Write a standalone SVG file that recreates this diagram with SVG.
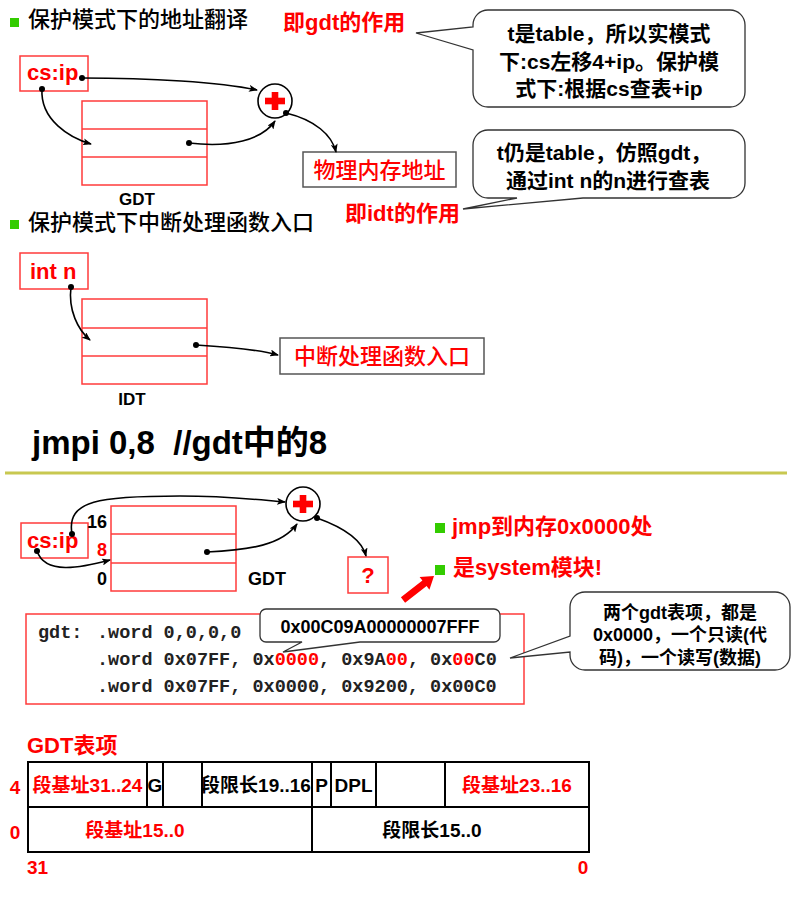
<svg xmlns="http://www.w3.org/2000/svg" width="809" height="904" viewBox="0 0 809 904">
<style>
text{font-family:"Liberation Sans","Noto Sans CJK SC",sans-serif;}
.t{font-size:22px;fill:#000;font-weight:500;}
.r{fill:#ff0000;font-weight:bold;font-size:22px;}
.rn{fill:#ff0000;font-size:22px;font-weight:500;}
.b{font-weight:bold;fill:#000;}
.mono{font-family:"Liberation Mono","Noto Sans CJK SC",monospace;font-size:18.5px;font-weight:bold;fill:#222;}
.red{fill:#ff0000;}
.tbl{fill:none;stroke:#ff3b3b;stroke-width:1.5;}
.gbox{fill:#fff;stroke:#555;stroke-width:1.5;}
.rbox{fill:#fff;stroke:#ff3b3b;stroke-width:1.5;}
.call{fill:#fff;stroke:#333;stroke-width:1.3;}
.conn path{fill:none;stroke:#000;stroke-width:1.6;marker-start:url(#dot);marker-end:url(#arr);}
.bul{fill:#33cc00;}
.grid{fill:#fff;stroke:#000;stroke-width:2;}
.gl{stroke:#000;stroke-width:2;}
.c{text-anchor:middle;}
</style>
<defs>
<marker id="arr" markerUnits="userSpaceOnUse" markerWidth="9" markerHeight="7" refX="8" refY="3.5" orient="auto">
<path d="M0,0 L9,3.5 L0,7 L2,3.5 z" fill="#000"/>
</marker>
<marker id="dot" markerUnits="userSpaceOnUse" markerWidth="7" markerHeight="7" refX="3.5" refY="3.5">
<circle cx="3.5" cy="3.5" r="3" fill="#000"/>
</marker>
<g id="plus">
<circle r="17" fill="#fff" stroke="#000" stroke-width="1.6"/>
<rect x="-10" y="-3.3" width="20" height="6.6" fill="#ff0000"/>
<rect x="-3.3" y="-9" width="6.6" height="18" fill="#ff0000"/>
</g>
</defs>
<rect width="809" height="904" fill="#fff"/>

<!-- Section 1 -->
<g id="title1">
<rect class="bul" x="10" y="18" width="9" height="9"/>
<text class="t" x="28" y="27">保护模式下的地址翻译</text>
</g>
<text id="gdt-role" class="r" x="283" y="30">即gdt的作用</text>
<g id="csip1">
<rect class="rbox" x="20" y="56" width="68" height="35"/>
<text class="r" x="27" y="80">cs:ip</text>
</g>
<g id="gdt1">
<rect class="tbl" x="82" y="101" width="125" height="84"/>
<line class="tbl" x1="82" y1="129" x2="207" y2="129"/>
<line class="tbl" x1="82" y1="157" x2="207" y2="157"/>
<text class="b c" x="137" y="205" font-size="17">GDT</text>
</g>
<g id="plus1"><use href="#plus" x="275" y="101"/></g>
<g id="phys">
<rect class="gbox" x="303" y="152" width="153" height="35"/>
<text class="rn c" x="379.5" y="178">物理内存地址</text>
</g>
<g id="callout1">
<path class="call" d="M488,10 H730 A15,15 0 0 1 745,25 V92 A15,15 0 0 1 730,107 H488 A15,15 0 0 1 473,92 V50 L416,33 L473,27 V25 A15,15 0 0 1 488,10 Z"/>
<text class="b c" x="609" y="41" font-size="21">t是table，所以实模式</text>
<text class="b c" x="609" y="69" font-size="21">下:cs左移4+ip。保护模</text>
<text class="b c" x="609" y="96" font-size="21">式下:根据cs查表+ip</text>
</g>
<g id="callout2">
<path class="call" d="M488,130 H730 A15,15 0 0 1 745,145 V183 A15,15 0 0 1 730,198 H583 L463,209 L517,198 H488 A15,15 0 0 1 473,183 V145 A15,15 0 0 1 488,130 Z"/>
<text class="b c" x="604" y="160" font-size="21">t仍是table，仿照gdt，</text>
<text class="b c" x="608" y="188" font-size="21">通过int n的n进行查表</text>
</g>
<text id="idt-role" class="r" x="345" y="221">即idt的作用</text>

<!-- Section 2 -->
<g id="title2">
<rect class="bul" x="10" y="220" width="9" height="9"/>
<text class="t" x="28" y="230">保护模式下中断处理函数入口</text>
</g>
<g id="intn">
<rect class="rbox" x="20" y="253" width="68" height="36"/>
<text class="r" x="30" y="279">int n</text>
</g>
<g id="idt">
<rect class="tbl" x="82" y="299" width="125" height="85"/>
<line class="tbl" x1="82" y1="328" x2="207" y2="328"/>
<line class="tbl" x1="82" y1="356" x2="207" y2="356"/>
<text class="b c" x="132" y="405" font-size="17">IDT</text>
</g>
<g id="handler">
<rect class="gbox" x="280" y="338" width="204" height="36"/>
<text class="rn c" x="382" y="364">中断处理函数入口</text>
</g>

<text id="jmpi" class="b" x="32" y="454" font-size="33" xml:space="preserve">jmpi 0,8  //gdt中的8</text>
<line id="sep" x1="5" y1="473" x2="787" y2="473" stroke="#c8c850" stroke-width="3"/>

<!-- Section 3 -->
<g id="csip3">
<rect class="rbox" x="21" y="523" width="67" height="35"/>
<text class="r" x="27" y="548">cs:ip</text>
</g>
<g id="gdt3">
<rect class="tbl" x="111" y="506" width="125" height="85"/>
<line class="tbl" x1="111" y1="534" x2="236" y2="534"/>
<line class="tbl" x1="111" y1="563" x2="236" y2="563"/>
<text class="b" x="87" y="528" font-size="18">16</text>
<text class="b red" x="97" y="556" font-size="18">8</text>
<text class="b" x="97" y="585" font-size="18">0</text>
<text class="b" x="248" y="585" font-size="18">GDT</text>
</g>
<g id="plus3"><use href="#plus" x="303" y="504"/></g>
<g id="qbox">
<rect class="rbox" x="348" y="557" width="40" height="36"/>
<text class="r c" x="368" y="583" font-size="20">?</text>
</g>
<g id="notes">
<rect class="bul" x="435" y="523" width="10" height="10"/>
<text class="r" x="452" y="534">jmp到内存0x0000处</text>
<rect class="bul" x="435" y="565" width="10" height="10"/>
<text class="r" x="453" y="575">是system模块!</text>
</g>
<polygon id="bigarrow" points="405.1,602.8 426.6,586.1 429.4,589.7 434,576 419.6,576.9 422.4,580.5 400.9,597.2" fill="#ff0000"/>

<g id="code">
<rect class="rbox" x="26" y="614" width="498" height="90"/>
<text class="mono" x="38" y="638">gdt:</text>
<text class="mono" x="97" y="638">.word 0,0,0,0</text>
<text class="mono" x="97" y="665">.word 0x07FF, 0x<tspan class="red">0000</tspan>, 0x9A<tspan class="red">00</tspan>, 0x<tspan class="red">00</tspan>C0</text>
<text class="mono" x="97" y="692">.word 0x07FF, 0x0000, 0x9200, 0x00C0</text>
</g>
<g id="callout-hex">
<path class="call" d="M266,609 H494 A6,6 0 0 1 500,615 V636 A6,6 0 0 1 494,642 H360 L283,652 L302,642 H266 A6,6 0 0 1 260,636 V615 A6,6 0 0 1 266,609 Z"/>
<text class="b c" x="380" y="633" font-size="18">0x00C09A00000007FFF</text>
</g>
<g id="callout3">
<path class="call" d="M585,592 H775 A15,15 0 0 1 790,607 V655 A15,15 0 0 1 775,670 H585 A15,15 0 0 1 570,655 V652 L510,658 L570,636 V607 A15,15 0 0 1 585,592 Z"/>
<text class="b c" x="680" y="619" font-size="18">两个gdt表项，都是</text>
<text class="b c" x="680" y="641" font-size="18">0x0000，一个只读(代</text>
<text class="b c" x="680" y="664" font-size="18">码)，一个读写(数据)</text>
</g>

<!-- GDT entry -->
<g id="gdt-entry">
<text class="r" x="27" y="753" font-size="21">GDT表项</text>
<rect class="grid" x="28" y="762" width="561" height="90"/>
<line class="gl" x1="28" y1="807" x2="589" y2="807"/>
<line class="gl" x1="147" y1="762" x2="147" y2="807"/>
<line class="gl" x1="163" y1="762" x2="163" y2="807"/>
<line class="gl" x1="202" y1="762" x2="202" y2="807"/>
<line class="gl" x1="312" y1="762" x2="312" y2="852"/>
<line class="gl" x1="331" y1="762" x2="331" y2="807"/>
<line class="gl" x1="376" y1="762" x2="376" y2="807"/>
<line class="gl" x1="445" y1="762" x2="445" y2="807"/>
<text class="b red c" x="87.5" y="792" font-size="19">段基址31..24</text>
<text class="b c" x="155" y="792" font-size="19">G</text>
<text class="b c" x="256" y="792" font-size="19">段限长19..16</text>
<text class="b c" x="321.5" y="792" font-size="19">P</text>
<text class="b c" x="353.5" y="792" font-size="19">DPL</text>
<text class="b red c" x="517" y="792" font-size="19">段基址23..16</text>
<text class="b red c" x="135" y="837" font-size="19">段基址15..0</text>
<text class="b c" x="432" y="837" font-size="19">段限长15..0</text>
<text class="b red c" x="15" y="794" font-size="19">4</text>
<text class="b red c" x="15" y="839" font-size="19">0</text>
<text class="b red" x="27" y="874" font-size="19">31</text>
<text class="b red c" x="583" y="874" font-size="19">0</text>
</g>

<g id="connectors" class="conn">
<path d="M82,78 C150,78 220,82 257,90"/>
<path d="M42,89 C40,120 70,138 91,144"/>
<path d="M189,143 C230,148 262,140 275,121"/>
<path d="M286,113 C315,120 332,135 336,152"/>
<path d="M71,287 C68,310 78,330 90,340"/>
<path d="M196,345 C230,347 260,350 278,355"/>
<path d="M72,534 C66,500 100,496 180,496 C230,496 260,500 285,502"/>
<path d="M37,551 C45,575 80,568 110,560"/>
<path d="M207,552 C250,550 282,545 297,524"/>
<path d="M317,518 C345,528 362,540 366,556"/>
</g>
</svg>
